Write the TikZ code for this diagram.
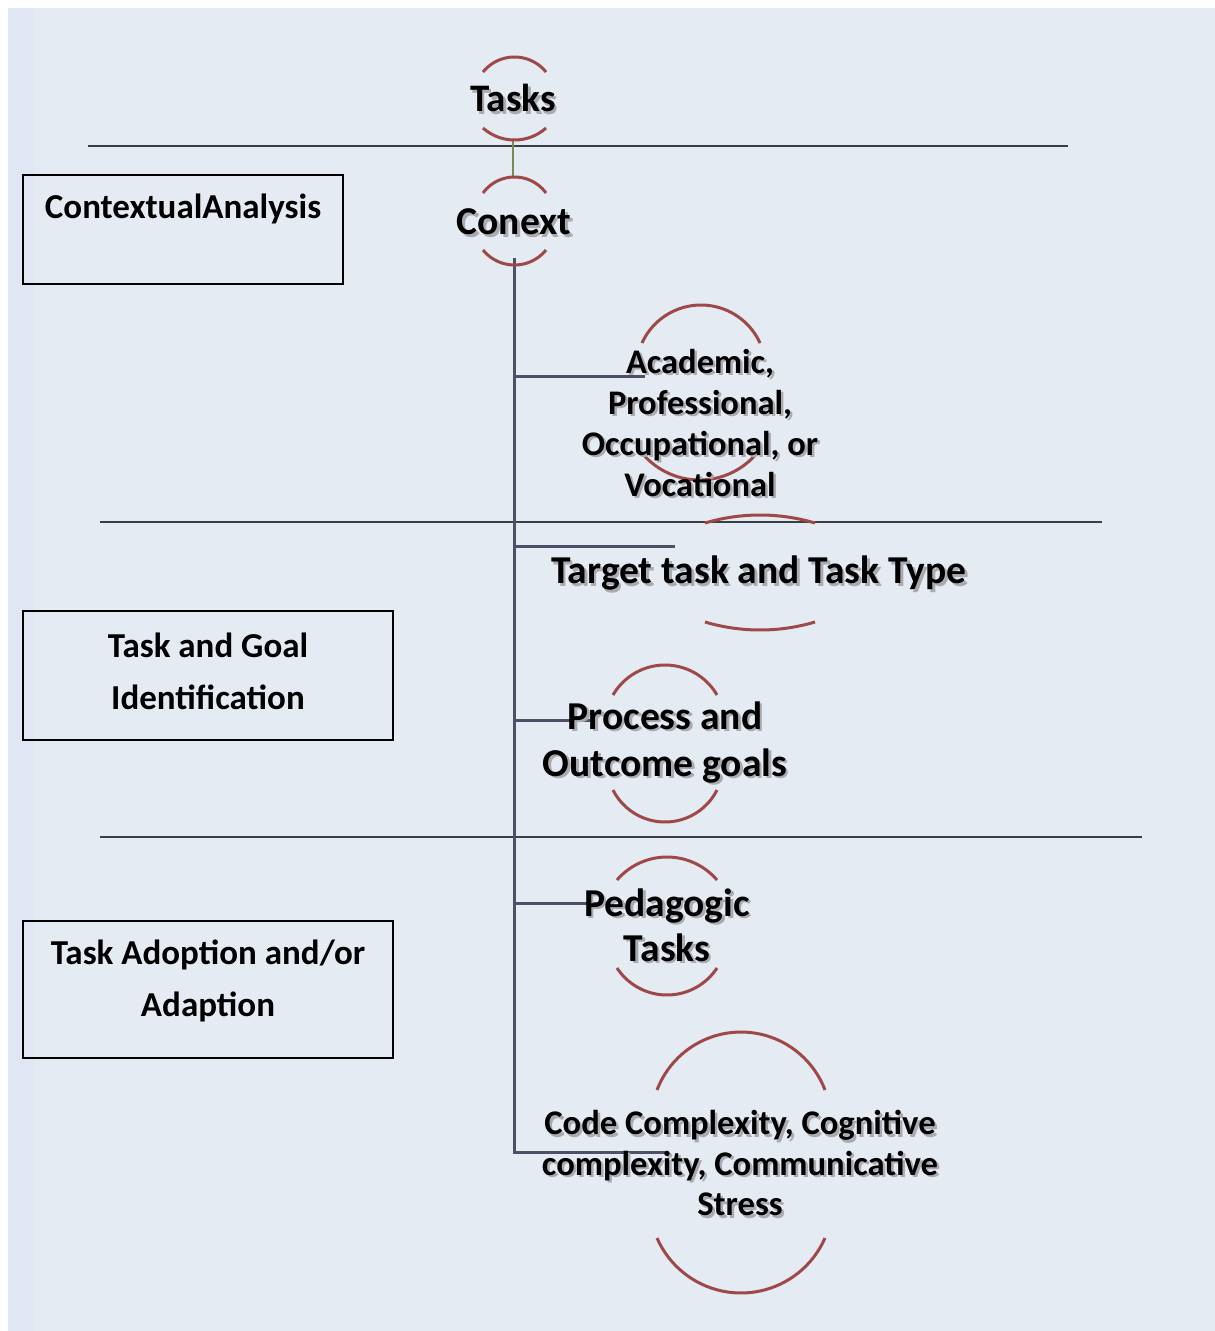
\documentclass[tikz,border=0pt]{standalone}
\usepackage{fontspec}
\setmainfont{Carlito}
\begin{document}
\definecolor{paper}{RGB}{228,235,242}
\definecolor{paperedge}{RGB}{224,230,244}
\definecolor{rim}{RGB}{158,72,74}
\definecolor{trunk}{RGB}{78,80,104}
\definecolor{rule}{RGB}{58,62,70}
\definecolor{link}{RGB}{120,140,80}
\definecolor{shade}{RGB}{170,170,176}
% arc over a label: left x, right x, end y, apex y (apex above ends)
\newcommand{\rimTop}[4]{%
  \pgfmathsetmacro{\rimHW}{(#2-#1)/2}%
  \pgfmathsetmacro{\rimS}{#3-#4}%
  \pgfmathsetmacro{\rimR}{(\rimHW*\rimHW+\rimS*\rimS)/(2*\rimS)}%
  \pgfmathsetmacro{\rimA}{asin(\rimHW/\rimR)}%
  \pgfmathsetmacro{\rimCX}{(#1+#2)/2}%
  \pgfmathsetmacro{\rimCY}{#4+\rimR}%
  \draw[rimline] plot[domain={270-\rimA}:{270+\rimA}, samples=40]
    ({\rimCX+\rimR*cos(\x)}, {\rimCY+\rimR*sin(\x)});}
% arc under a label: left x, right x, end y, apex y (apex below ends)
\newcommand{\rimBot}[4]{%
  \pgfmathsetmacro{\rimHW}{(#2-#1)/2}%
  \pgfmathsetmacro{\rimS}{#4-#3}%
  \pgfmathsetmacro{\rimR}{(\rimHW*\rimHW+\rimS*\rimS)/(2*\rimS)}%
  \pgfmathsetmacro{\rimA}{asin(\rimHW/\rimR)}%
  \pgfmathsetmacro{\rimCX}{(#1+#2)/2}%
  \pgfmathsetmacro{\rimCY}{#4-\rimR}%
  \draw[rimline] plot[domain={90-\rimA}:{90+\rimA}, samples=40]
    ({\rimCX+\rimR*cos(\x)}, {\rimCY+\rimR*sin(\x)});}
% label with a soft drop shadow: name, x, y, font size, line skip, text
\newcommand{\shlabel}[6]{%
  \node[lbl, text=shade, xshift=2.5pt, yshift=-2.5pt,
    font=\bfseries\fontsize{#4}{#5}\selectfont] at (#2,#3) {#6};
  \node[lbl, font=\bfseries\fontsize{#4}{#5}\selectfont] (#1) at (#2,#3) {#6};}
\begin{tikzpicture}[x=1pt, y=-1pt,
  lbl/.style={inner sep=0pt, align=center, text=black},
  boxlbl/.style={inner sep=0pt, align=center, text=black,
    font=\bfseries\fontsize{35}{52}\selectfont},
  stagebox/.style={draw=black, line width=1.8pt},
  rimline/.style={draw=rim, line width=3pt},
  trunkline/.style={draw=trunk, line width=3pt},
  sepline/.style={draw=rule, line width=1.8pt}]

% page
\fill[white] (0,0) rectangle (1215,1331);
\fill[paper] (8,8) rectangle (1215,1331);
\fill[paperedge] (8,8) rectangle (34,1331);
\useasboundingbox (0,0) rectangle (1215,1331);

% stage separators
\draw[sepline] (88,146) -- (1068,146);
\draw[sepline] (100,522) -- (1102,522);
\draw[sepline] (100,837) -- (1142,837);

% stage boxes
\draw[stagebox] (23,175) rectangle (343,284);
\node[boxlbl] (ctx) at (183,209) {ContextualAnalysis};
\draw[stagebox] (23,611) rectangle (393,740);
\node[boxlbl] (goal) at (208,671) {Task and Goal\\Identification};
\draw[stagebox] (23,921) rectangle (393,1058);
\node[boxlbl] (adopt) at (208,981) {Task Adoption and/or\\Adaption};

% branch anchors on the trunk
\coordinate (tTop) at (514,258);
\coordinate (tA) at (514,376);
\coordinate (tB) at (514,546);
\coordinate (tC) at (514,720);
\coordinate (tD) at (514,903);
\coordinate (tE) at (514,1152);
\coordinate (eA) at (645,376);
\coordinate (eB) at (675,546);
\coordinate (eC) at (590,720);
\coordinate (eD) at (600,903);
\coordinate (eE) at (665,1152);
\coordinate (lk1) at (513,141);
\coordinate (lk2) at (513,178);

% trunk and branches
\draw[trunkline] (tTop) -- (tE) -- (eE);
\draw[trunkline] (tA) -- (eA);
\draw[trunkline] (tB) -- (eB);
\draw[trunkline] (tC) -- (eC);
\draw[trunkline] (tD) -- (eD);
\draw[link, line width=2pt] (lk1) -- (lk2);

% arcs around the labels
\rimTop{483}{546}{72}{57}
\rimBot{483}{546}{128}{140}
\rimTop{483}{546}{193}{177}
\rimBot{483}{546}{250}{265}
\rimTop{642}{760}{343}{305}
\rimBot{642}{757}{453}{480}
\rimTop{705}{815}{523}{515}
\rimBot{705}{815}{622}{630}
\rimTop{613}{717}{695}{665}
\rimBot{613}{717}{790}{822}
\rimTop{617}{717}{880}{857}
\rimBot{617}{717}{968}{995}
\rimTop{657}{825}{1090}{1032}
\rimBot{657}{825}{1238}{1293}

% labels
\shlabel{tasks}{513}{98}{39}{44}{Tasks}
\shlabel{conext}{514}{222}{39.5}{44}{Conext}
\shlabel{acad}{700}{423}{34.5}{41}{Academic,\\Professional,\\Occupational, or\\Vocational}
\shlabel{target}{759}{573}{39.5}{44}{Target task and Task Type}
\shlabel{proc}{665}{742}{39.5}{47}{Process and\\Outcome goals}
\shlabel{peda}{667}{925}{39.5}{45}{Pedagogic\\Tasks}
\shlabel{code}{740}{1163}{34.6}{40.5}{Code Complexity, Cognitive\\complexity, Communicative\\Stress}
\end{tikzpicture}
\end{document}
